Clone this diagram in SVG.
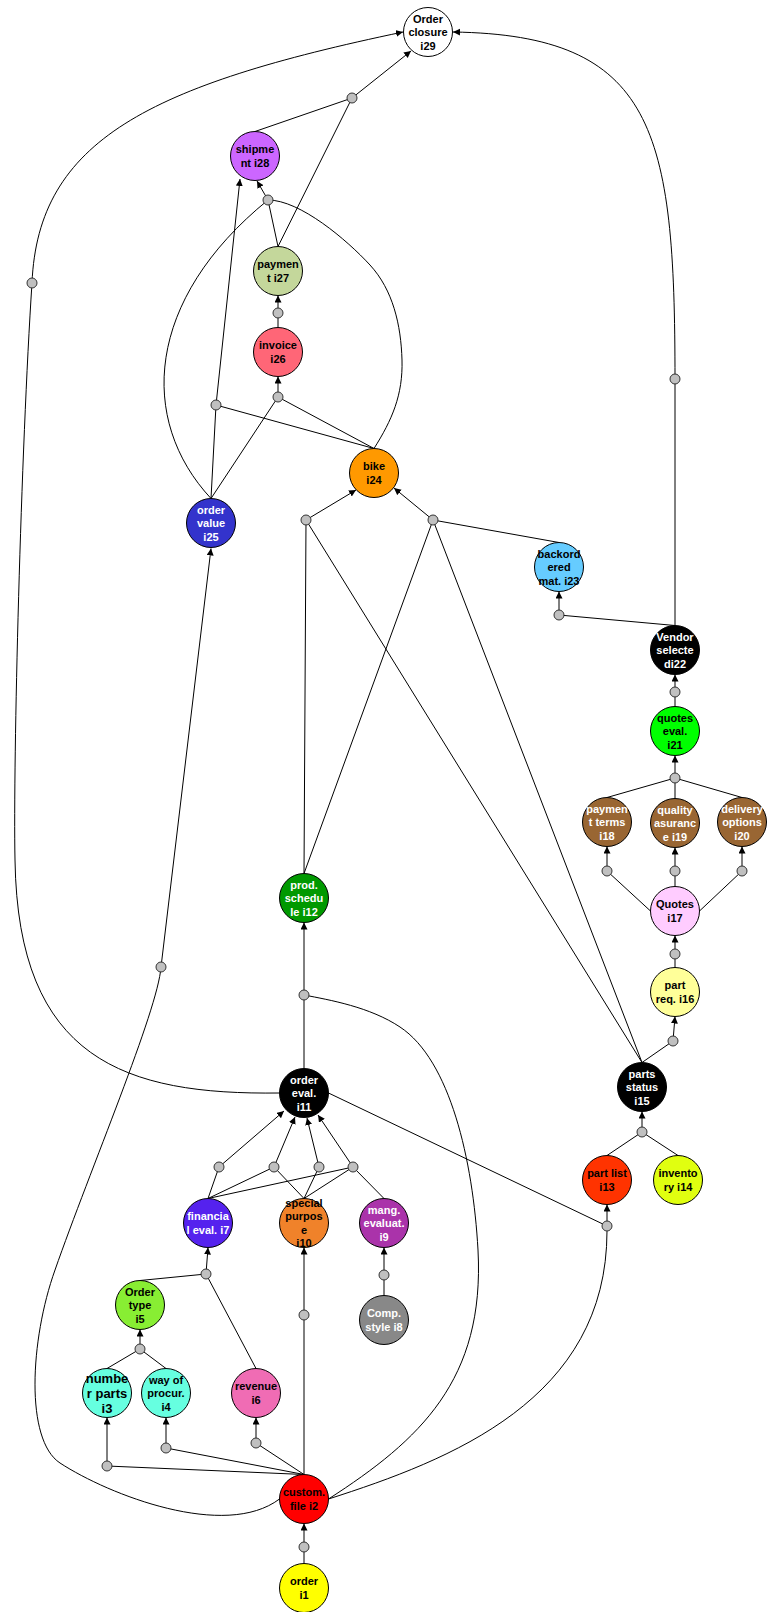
<svg xmlns="http://www.w3.org/2000/svg" width="767" height="1612" viewBox="0 0 767 1612">
<style>
.n{stroke:#000;stroke-width:1}
.j{fill:#c0c0c0;stroke:#333;stroke-width:1}
text{font-family:"Liberation Sans",Arial,sans-serif;font-weight:bold;font-size:11px;text-anchor:middle}
.w{fill:#fff}
.b{fill:#000}
#connectors path{fill:none;stroke:#000;stroke-width:1}
#connectors .a{marker-end:url(#arr)}
</style>
<defs>
<marker id="arr" markerUnits="userSpaceOnUse" markerWidth="8" markerHeight="8" refX="7" refY="3.5" orient="auto"><path d="M0,0 L7,3.5 L0,7 z" fill="#000"/></marker>
</defs>
<rect width="767" height="1612" fill="#fff"/>
<g id="connectors">
<path d="M255,131.5 L352,98"/>
<path d="M278,246.5 L352,98"/>
<path d="M278,246.5 L268,200"/>
<path d="M211,498.5 C138,420 145,300 268,200"/>
<path d="M374,448.5 C392,420 403,395 402,360 S393,290 370,265 S300,200 268,200"/>
<path d="M278,327.5 L278,313"/>
<path d="M211,498.5 L278,397"/>
<path d="M374,448.5 L278,397"/>
<path d="M211,498.5 L216,405"/>
<path d="M374,448.5 L216,405"/>
<path d="M304,873.5 L306,520"/>
<path d="M642,1062.5 L306,520"/>
<path d="M304,873.5 L433,520"/>
<path d="M642,1062.5 L433,520"/>
<path d="M559,542.5 L433,520"/>
<path d="M675,625.5 L559,615"/>
<path d="M675,625.5 L675,379"/>
<path d="M675,706.5 L675,692"/>
<path d="M607,797.5 L675,778"/>
<path d="M675,798.5 L675,778"/>
<path d="M742,797.5 L675,778"/>
<path d="M650.5,911 L607,871"/>
<path d="M675,886.5 L675,871"/>
<path d="M699.5,911 L742,871"/>
<path d="M675,967.5 L675,954"/>
<path d="M642,1062.5 L673,1041"/>
<path d="M607,1155.5 L642,1132"/>
<path d="M678,1155.5 L642,1132"/>
<path d="M328.5,1093 L607,1226"/>
<path d="M328.5,1499 C450,1460 607,1400 607,1231"/>
<path d="M304,1068.5 L304,995"/>
<path d="M328.5,1499 C420,1440 485,1380 478,1250 C473,1160 450,1060 400,1027 C370,1007 330,1000 304,995"/>
<path d="M279.5,1093 C125,1095 18,1060 15,860 C13,760 21,450 32,283"/>
<path d="M161,967 C158,1010 90,1170 55,1270 C30,1340 25,1440 60,1463 C109,1495 225,1540 279.5,1499"/>
<path d="M208,1198.5 L219,1167"/>
<path d="M208,1198.5 L274,1167"/>
<path d="M208,1198.5 L353,1167"/>
<path d="M304,1198.5 L274,1167"/>
<path d="M304,1198.5 L319,1167"/>
<path d="M304,1198.5 L353,1167"/>
<path d="M384,1198.5 L353,1167"/>
<path d="M256,1368.5 L206,1274"/>
<path d="M140,1280.5 L206,1274"/>
<path d="M107,1368.5 L140,1349"/>
<path d="M166,1368.5 L140,1349"/>
<path d="M304,1474.5 L107,1466"/>
<path d="M304,1474.5 L166,1448"/>
<path d="M304,1474.5 L256,1443"/>
<path d="M304,1474.5 L304,1315"/>
<path d="M384,1295.5 L384,1275"/>
<path d="M304,1563.5 L304,1547"/>
<path class="a" d="M352,98 L411,51"/>
<path class="a" d="M32,283 C38,140 150,85 403,32"/>
<path class="a" d="M675,379 C675,130 655,35 453,32"/>
<path class="a" d="M268,200 L257,181"/>
<path class="a" d="M216,405 L240,179"/>
<path class="a" d="M278,313 L278,295.5"/>
<path class="a" d="M278,397 L278,376.5"/>
<path class="a" d="M306,520 L356,490"/>
<path class="a" d="M433,520 L394,488"/>
<path class="a" d="M559,615 L559,591.5"/>
<path class="a" d="M675,692 L675,674.5"/>
<path class="a" d="M675,778 L675,755.5"/>
<path class="a" d="M607,871 L607,846.5"/>
<path class="a" d="M675,871 L675,847.5"/>
<path class="a" d="M742,871 L742,846.5"/>
<path class="a" d="M675,954 L675,935.5"/>
<path class="a" d="M673,1041 L675,1016.5"/>
<path class="a" d="M642,1132 L642,1111.5"/>
<path class="a" d="M607,1226 L607,1204.5"/>
<path class="a" d="M304,995 L304,922.5"/>
<path class="a" d="M161,967 L211,548.5"/>
<path class="a" d="M219,1167 L284,1111"/>
<path class="a" d="M274,1167 L295,1117"/>
<path class="a" d="M319,1167 L307,1118"/>
<path class="a" d="M353,1167 L318,1115"/>
<path class="a" d="M206,1274 L208,1247.5"/>
<path class="a" d="M140,1349 L140,1329.5"/>
<path class="a" d="M107,1466 L107,1417.5"/>
<path class="a" d="M166,1448 L166,1417.5"/>
<path class="a" d="M256,1443 L256,1417.5"/>
<path class="a" d="M304,1315 L304,1247.5"/>
<path class="a" d="M384,1275 L384,1247.5"/>
<path class="a" d="M304,1547 L304,1523.5"/>
</g>
<g id="junctions">
<circle class="j" cx="352" cy="98" r="5"/>
<circle class="j" cx="268" cy="200" r="5"/>
<circle class="j" cx="278" cy="313" r="5"/>
<circle class="j" cx="278" cy="397" r="5"/>
<circle class="j" cx="216" cy="405" r="5"/>
<circle class="j" cx="306" cy="520" r="5"/>
<circle class="j" cx="433" cy="520" r="5"/>
<circle class="j" cx="559" cy="615" r="5"/>
<circle class="j" cx="675" cy="379" r="5"/>
<circle class="j" cx="675" cy="692" r="5"/>
<circle class="j" cx="675" cy="778" r="5"/>
<circle class="j" cx="607" cy="871" r="5"/>
<circle class="j" cx="675" cy="871" r="5"/>
<circle class="j" cx="742" cy="871" r="5"/>
<circle class="j" cx="675" cy="954" r="5"/>
<circle class="j" cx="673" cy="1041" r="5"/>
<circle class="j" cx="642" cy="1132" r="5"/>
<circle class="j" cx="607" cy="1226" r="5"/>
<circle class="j" cx="304" cy="995" r="5"/>
<circle class="j" cx="32" cy="283" r="5"/>
<circle class="j" cx="161" cy="967" r="5"/>
<circle class="j" cx="219" cy="1167" r="5"/>
<circle class="j" cx="274" cy="1167" r="5"/>
<circle class="j" cx="319" cy="1167" r="5"/>
<circle class="j" cx="353" cy="1167" r="5"/>
<circle class="j" cx="206" cy="1274" r="5"/>
<circle class="j" cx="140" cy="1349" r="5"/>
<circle class="j" cx="107" cy="1466" r="5"/>
<circle class="j" cx="166" cy="1448" r="5"/>
<circle class="j" cx="256" cy="1443" r="5"/>
<circle class="j" cx="304" cy="1315" r="5"/>
<circle class="j" cx="384" cy="1275" r="5"/>
<circle class="j" cx="304" cy="1547" r="5"/>
</g>
<g id="i29"><circle class="n" cx="428" cy="32" r="24.5" fill="#fff"/><text class="b"><tspan x="428" y="22.5">Order</tspan><tspan x="428" y="36">closure</tspan><tspan x="428" y="49.5">i29</tspan></text></g>
<g id="i28"><circle class="n" cx="255" cy="156" r="24.5" fill="#cc66ff"/><text class="b"><tspan x="255" y="153">shipme</tspan><tspan x="255" y="167">nt i28</tspan></text></g>
<g id="i27"><circle class="n" cx="278" cy="271" r="24.5" fill="#c4d79b"/><text class="b"><tspan x="278" y="268">paymen</tspan><tspan x="278" y="282">t i27</tspan></text></g>
<g id="i26"><circle class="n" cx="278" cy="352" r="24.5" fill="#ff6677"/><text class="b"><tspan x="278" y="349">invoice</tspan><tspan x="278" y="363">i26</tspan></text></g>
<g id="i25"><circle class="n" cx="211" cy="523" r="24.5" fill="#3333cc"/><text class="w"><tspan x="211" y="513.5">order</tspan><tspan x="211" y="527">value</tspan><tspan x="211" y="540.5">i25</tspan></text></g>
<g id="i24"><circle class="n" cx="374" cy="473" r="24.5" fill="#ff9900"/><text class="b"><tspan x="374" y="470">bike</tspan><tspan x="374" y="484">i24</tspan></text></g>
<g id="i23"><circle class="n" cx="559" cy="567" r="24.5" fill="#66ccff"/><text class="b"><tspan x="559" y="557.5">backord</tspan><tspan x="559" y="571">ered</tspan><tspan x="559" y="584.5">mat. i23</tspan></text></g>
<g id="i22"><circle class="n" cx="675" cy="650" r="24.5" fill="#000"/><text class="w"><tspan x="675" y="640.5">Vendor</tspan><tspan x="675" y="654">selecte</tspan><tspan x="675" y="667.5">di22</tspan></text></g>
<g id="i21"><circle class="n" cx="675" cy="731" r="24.5" fill="#00ff00"/><text class="b"><tspan x="675" y="721.5">quotes</tspan><tspan x="675" y="735">eval.</tspan><tspan x="675" y="748.5">i21</tspan></text></g>
<g id="i18"><circle class="n" cx="607" cy="822" r="24.5" fill="#996633"/><text class="w"><tspan x="607" y="812.5">paymen</tspan><tspan x="607" y="826">t terms</tspan><tspan x="607" y="839.5">i18</tspan></text></g>
<g id="i19"><circle class="n" cx="675" cy="823" r="24.5" fill="#996633"/><text class="w"><tspan x="675" y="813.5">quality</tspan><tspan x="675" y="827">asuranc</tspan><tspan x="675" y="840.5">e i19</tspan></text></g>
<g id="i20"><circle class="n" cx="742" cy="822" r="24.5" fill="#996633"/><text class="w"><tspan x="742" y="812.5">delivery</tspan><tspan x="742" y="826">options</tspan><tspan x="742" y="839.5">i20</tspan></text></g>
<g id="i17"><circle class="n" cx="675" cy="911" r="24.5" fill="#ffccff"/><text class="b"><tspan x="675" y="908">Quotes</tspan><tspan x="675" y="922">i17</tspan></text></g>
<g id="i16"><circle class="n" cx="675" cy="992" r="24.5" fill="#ffff99"/><text class="b"><tspan x="675" y="989">part</tspan><tspan x="675" y="1003">req. i16</tspan></text></g>
<g id="i15"><circle class="n" cx="642" cy="1087" r="24.5" fill="#000"/><text class="w"><tspan x="642" y="1077.5">parts</tspan><tspan x="642" y="1091">status</tspan><tspan x="642" y="1104.5">i15</tspan></text></g>
<g id="i13"><circle class="n" cx="607" cy="1180" r="24.5" fill="#ff3300"/><text class="b"><tspan x="607" y="1177">part list</tspan><tspan x="607" y="1191">i13</tspan></text></g>
<g id="i14"><circle class="n" cx="678" cy="1180" r="24.5" fill="#e0ff10"/><text class="b"><tspan x="678" y="1177">invento</tspan><tspan x="678" y="1191">ry i14</tspan></text></g>
<g id="i12"><circle class="n" cx="304" cy="898" r="24.5" fill="#009900"/><text class="w"><tspan x="304" y="888.5">prod.</tspan><tspan x="304" y="902">schedu</tspan><tspan x="304" y="915.5">le i12</tspan></text></g>
<g id="i11"><circle class="n" cx="304" cy="1093" r="24.5" fill="#000"/><text class="w"><tspan x="304" y="1083.5">order</tspan><tspan x="304" y="1097">eval.</tspan><tspan x="304" y="1110.5">i11</tspan></text></g>
<g id="i7"><circle class="n" cx="208" cy="1223" r="24.5" fill="#5522ee"/><text class="w"><tspan x="208" y="1220">financia</tspan><tspan x="208" y="1234">l eval. i7</tspan></text></g>
<g id="i10"><circle class="n" cx="304" cy="1223" r="24.5" fill="#f0822a"/><text class="b"><tspan x="304" y="1206.5">special</tspan><tspan x="304" y="1220">purpos</tspan><tspan x="304" y="1233.5">e</tspan><tspan x="304" y="1247">i10</tspan></text></g>
<g id="i9"><circle class="n" cx="384" cy="1223" r="24.5" fill="#aa33aa"/><text class="w"><tspan x="384" y="1213.5">mang.</tspan><tspan x="384" y="1227">evaluat.</tspan><tspan x="384" y="1240.5">i9</tspan></text></g>
<g id="i8"><circle class="n" cx="384" cy="1320" r="24.5" fill="#888888"/><text class="w"><tspan x="384" y="1317">Comp.</tspan><tspan x="384" y="1331">style i8</tspan></text></g>
<g id="i5"><circle class="n" cx="140" cy="1305" r="24.5" fill="#88ee33"/><text class="b"><tspan x="140" y="1295.5">Order</tspan><tspan x="140" y="1309">type</tspan><tspan x="140" y="1322.5">i5</tspan></text></g>
<g id="i3"><circle class="n" cx="107" cy="1393" r="24.5" fill="#66ffe0"/><text class="b" style="font-size:13px"><tspan x="107" y="1382.7">numbe</tspan><tspan x="107" y="1397.7">r parts</tspan><tspan x="107" y="1412.7">i3</tspan></text></g>
<g id="i4"><circle class="n" cx="166" cy="1393" r="24.5" fill="#66ffe0"/><text class="b"><tspan x="166" y="1383.5">way of</tspan><tspan x="166" y="1397">procur.</tspan><tspan x="166" y="1410.5">i4</tspan></text></g>
<g id="i6"><circle class="n" cx="256" cy="1393" r="24.5" fill="#f06cb4"/><text class="b"><tspan x="256" y="1390">revenue</tspan><tspan x="256" y="1404">i6</tspan></text></g>
<g id="i2"><circle class="n" cx="304" cy="1499" r="24.5" fill="#ff0000"/><text class="b"><tspan x="304" y="1496">custom.</tspan><tspan x="304" y="1510">file i2</tspan></text></g>
<g id="i1"><circle class="n" cx="304" cy="1588" r="24.5" fill="#ffff00"/><text class="b"><tspan x="304" y="1585">order</tspan><tspan x="304" y="1599">i1</tspan></text></g>
</svg>
